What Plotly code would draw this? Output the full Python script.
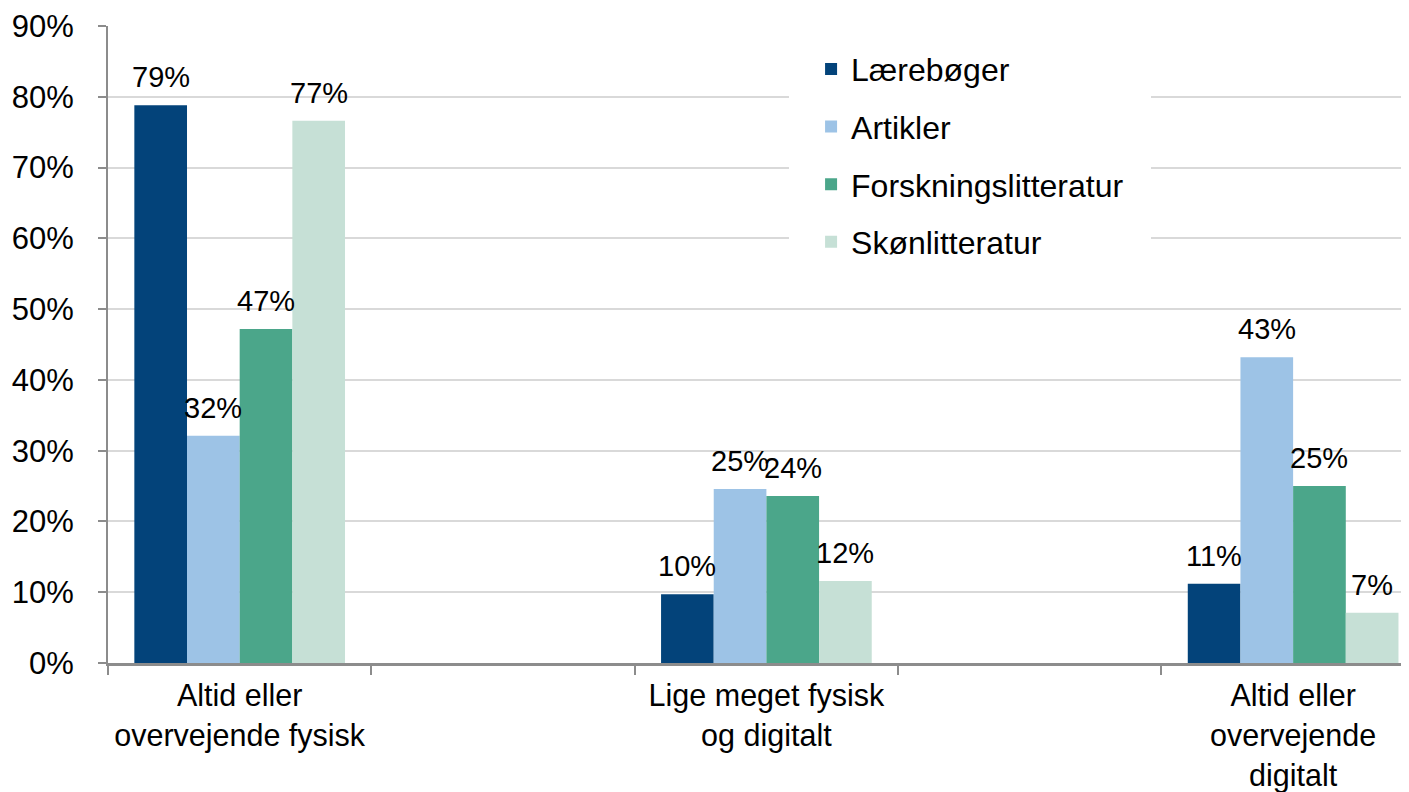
import plotly.graph_objects as go

categories = ["Altid eller<br>overvejende fysisk", "Lige meget fysisk<br>og digitalt", "Altid eller<br>overvejende<br>digitalt"]
series_names = ["Lærebøger", "Artikler", "Forskningslitteratur", "Skønlitteratur"]
laereboeger = [0.788, 0.097, 0.112]
artikler = [0.321, 0.246, 0.432]
forskning = [0.472, 0.236, 0.250]
skoenlit = [0.766, 0.116, 0.071]
colors = ["#03437A", "#9DC3E6", "#4BA68A", "#C6E0D6"]
y_ticks = [0, 0.1, 0.2, 0.3, 0.4, 0.5, 0.6, 0.7, 0.8, 0.9]

series_values = [laereboeger, artikler, forskning, skoenlit]
x_pos = [i * 2 for i in range(len(categories))]
BARGAP = 0.6

FONT = "Liberation Sans, Arial, sans-serif"

fig = go.Figure()
n = len(series_names)
bar_w = 2 * (1 - BARGAP) / n
for i, (name, vals, col) in enumerate(zip(series_names, series_values, colors)):
    fig.add_trace(go.Bar(
        x=x_pos, y=vals, name=name, marker=dict(color=col, line=dict(width=0)),
        legendgroup=name,
    ))
    for xp, v in zip(x_pos, vals):
        fig.add_annotation(
            x=xp + (i - (n - 1) / 2) * bar_w, y=v, xref="x", yref="y",
            text=f"{v:.0%}", showarrow=False, yanchor="bottom", yshift=10,
            font=dict(size=29, family=FONT, color="black"),
        )

fig.update_layout(
    width=1401, height=784,
    margin=dict(l=100, r=0, t=18, b=129),
    paper_bgcolor="white", plot_bgcolor="white",
    barmode="group", bargap=BARGAP, bargroupgap=0,
    font=dict(family=FONT, size=31, color="black"),
    legend=dict(
        x=0.5235, y=1.01, xanchor="left", yanchor="top",
        bgcolor="white", bordercolor="white", borderwidth=22,
        font=dict(size=32, family=FONT, color="black"),
        traceorder="grouped", tracegroupgap=13,
    ),
    xaxis=dict(
        range=[-0.5, 4.44], tickmode="array", tickvals=x_pos, ticktext=categories,
        ticks="", showgrid=False, zeroline=False, automargin=False,
        showline=True, linecolor="#8C8C8C", linewidth=2.5,
        tickfont=dict(size=30.5, family=FONT, color="black"),
        minor=dict(tickmode="linear", tick0=0.5, dtick=1, ticks="outside",
                   ticklen=9, tickcolor="#8C8C8C", tickwidth=1.5, showgrid=False),
        ticklabelstandoff=4,
    ),
    yaxis=dict(
        range=[0, 0.9], tickmode="array", tickvals=y_ticks, tickformat=".0%",
        showgrid=True, gridcolor="#D9D9D9", gridwidth=1.5,
        zeroline=False, showline=True, linecolor="#8C8C8C", linewidth=2,
        ticks="outside", ticklen=8, tickcolor="#8C8C8C", tickwidth=1.5,
        tickfont=dict(size=31, family=FONT, color="black"),
        ticklabelstandoff=18, automargin=False,
    ),
)

fig.write_html("out.html")
